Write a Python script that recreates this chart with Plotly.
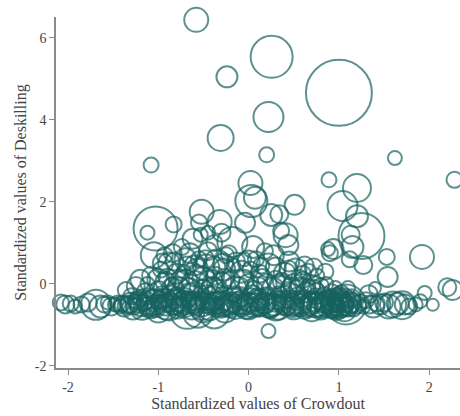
import plotly.graph_objects as go

# Isolated upper circles (x = crowdout, y = deskilling, s = marker diameter)
x_up = [-0.58, 0.255, 1.0, -0.24, 0.22, -0.31, 0.2, -1.08, 1.62, 2.28, 0.89, 1.2, 0.02, 0.07, 0.03,
        0.51, 0.25, -0.04, -0.52, -0.32, -0.55, -0.45, 1.04, 1.2, 1.25, 1.13, -1.03, -1.12, 1.92, 1.53,
        0.41, 0.44, 1.27, 1.54, 1.4, -1.05, -0.83, -0.18, 0.34, 0.36]
y_up = [6.44, 5.54, 4.66, 5.05, 4.07, 3.56, 3.15, 2.9, 3.07, 2.54, 2.54, 2.34, 2.46, 2.1, 2.02,
        1.93, 1.68, 1.49, 1.76, 1.51, 1.5, 1.25, 1.9, 1.65, 1.17, 1.2, 1.35, 1.25, 0.66, 0.66,
        1.19, 0.95, 0.46, 0.17, -0.1, 0.7, 1.45, 1.02, 1.7, 1.3]
s_up = [24, 42, 66, 21, 30, 26, 15, 15, 14, 16, 15, 28, 24, 22, 32,
        20, 22, 20, 24, 24, 16, 14, 30, 22, 46, 18, 44, 14, 24, 16,
        24, 20, 18, 20, 12, 26, 16, 30, 18, 16]

# Dense band and lower cloud
x_band = [-2.08, -2.03, -1.97, -1.92, -1.85, -1.78, -1.69, -1.64, -1.6, -1.56, -1.52, -1.48, -1.45, -1.42,
          -1.4, -1.38, -1.36, -1.32, -1.28, -1.26, -1.3, -1.25, -1.22, -1.18, -1.2, -1.16, -1.2, -1.14,
          -1.12, -1.08, -1.1, -1.06, -1.08, -1.12, -1.02, -0.98, -1.0, -0.96, -1.0, -0.97, -0.93,
          -0.92, -0.88, -0.9, -0.86, -0.9, -0.88, -0.85, -0.82, -0.78, -0.8, -0.76, -0.8, -0.77, -0.74, -0.84,
          -0.72, -0.68, -0.7, -0.66, -0.7, -0.68, -0.65, -0.72,
          -0.62, -0.58, -0.6, -0.56, -0.6, -0.57, -0.55, -0.62,
          -0.52, -0.48, -0.5, -0.46, -0.5, -0.47, -0.45, -0.53, -0.43,
          -0.42, -0.38, -0.4, -0.36, -0.4, -0.37, -0.35, -0.38,
          -0.32, -0.28, -0.3, -0.26, -0.3, -0.27, -0.25, -0.3,
          -0.22, -0.18, -0.2, -0.16, -0.2, -0.17, -0.22,
          -0.12, -0.08, -0.1, -0.06, -0.1, -0.08, -0.05,
          -0.02, 0.02, 0.0, 0.04, 0.0, 0.02, 0.05,
          0.08, 0.12, 0.1, 0.14, 0.1, 0.12, 0.08,
          0.18, 0.22, 0.2, 0.24, 0.2, 0.22, 0.22, 0.18,
          0.28, 0.32, 0.3, 0.34, 0.3, 0.28, 0.35,
          0.38, 0.42, 0.4, 0.44, 0.4, 0.45,
          0.48, 0.52, 0.5, 0.54, 0.5, 0.52, 0.56,
          0.58, 0.62, 0.6, 0.64, 0.6, 0.62, 0.66,
          0.68, 0.72, 0.7, 0.74, 0.7, 0.76, 0.72,
          0.78, 0.82, 0.8, 0.84, 0.8, 0.86, 0.9, 0.88,
          0.88, 0.92, 0.9, 0.94, 0.92, 0.96,
          0.98, 1.02, 1.0, 1.04, 1.0, 1.06, 0.98, 1.03, 0.94,
          1.08, 1.12, 1.1, 1.14, 1.16, 1.1, 1.12, 1.15,
          1.2, 1.24, 1.27, 1.3, 1.34, 1.38, 1.42, 1.46, 1.5, 1.55, 1.6, 1.65, 1.7, 1.73,
          1.78, 1.85, 1.9, 2.04, 1.95, 2.2, 2.26, 1.33]
y_band = [-0.45, -0.5, -0.48, -0.55, -0.5, -0.45, -0.51, -0.55, -0.5, -0.45, -0.55, -0.5, -0.48, -0.55,
          -0.48, -0.55, -0.15, -0.5, -0.6, -0.42, -0.3, -0.05, -0.45, -0.58, -0.35, -0.5, 0.1, -0.2,
          -0.48, -0.62, -0.3, -0.45, 0.2, 0.0, -0.5, -0.4, -0.65, -0.25, 0.1, 0.35, 0.7,
          -0.5, -0.55, -0.35, -0.2, 0.15, 0.5, 0.0, -0.45, -0.6, -0.3, -0.5, 0.25, -0.1, 0.9, 0.75,
          -0.5, -0.68, -0.35, -0.2, 0.05, 0.45, 0.75, 0.3,
          -0.45, -0.55, -0.3, -0.7, 0.0, 0.35, 0.6, 1.1,
          -0.5, -0.4, -0.62, -0.25, 0.15, 0.4, 0.8, 1.2, -0.05,
          -0.5, -0.72, -0.35, -0.55, -0.1, 0.2, 0.55, 1.0,
          -0.45, -0.55, -0.3, -0.65, 0.05, 0.35, 0.7, 1.25,
          -0.5, -0.4, -0.6, -0.25, 0.1, 0.45, 0.75,
          -0.48, -0.58, -0.32, -0.45, -0.05, 0.3, 0.6,
          -0.5, -0.4, -0.62, -0.25, 0.0, 0.35, 0.9,
          -0.5, -0.58, -0.35, -0.45, -0.1, 0.25, 0.6,
          -0.48, -0.55, -0.3, -0.65, 0.0, 0.45, -1.15, 0.8,
          -0.5, -0.4, -0.6, -0.25, 0.1, 0.7, -0.05,
          -0.48, -0.55, -0.32, -0.15, 0.25, 0.55,
          -0.5, -0.42, -0.62, -0.28, 0.0, 0.35, 0.15,
          -0.48, -0.58, -0.35, -0.2, 0.1, 0.45, -0.05,
          -0.5, -0.42, -0.62, -0.3, 0.0, 0.2, -0.15,
          -0.5, -0.45, -0.6, -0.3, -0.05, 0.0, 0.75, 0.85,
          -0.5, -0.55, -0.4, -0.62, -0.2, -0.1,
          -0.48, -0.5, -0.42, -0.55, -0.3, -0.62, -0.6, -0.2, 0.85,
          -0.5, -0.45, -0.55, -0.35, -0.6, -0.1, 0.6, 0.9,
          -0.5, -0.45, -0.55, -0.4, -0.5, -0.55, -0.48, -0.5, -0.45, -0.55, -0.5, -0.48, -0.52, -0.5,
          -0.55, -0.5, -0.42, -0.51, -0.22, -0.08, -0.15, -0.25]
s_band = [16, 18, 16, 14, 16, 18, 30, 22, 16, 14, 18, 14, 16, 14,
          16, 20, 16, 18, 22, 14, 16, 18, 20, 24, 16, 14, 20, 18,
          22, 18, 16, 26, 18, 14, 20, 18, 24, 16, 22, 16, 16,
          22, 28, 18, 16, 18, 22, 14, 24, 20, 18, 16, 20, 22, 16, 18,
          26, 34, 20, 18, 24, 18, 20, 14,
          22, 18, 28, 30, 26, 22, 16, 20,
          24, 20, 26, 18, 22, 26, 18, 14, 16,
          20, 30, 24, 16, 22, 18, 24, 16,
          22, 20, 18, 24, 20, 22, 16, 18,
          20, 24, 18, 16, 18, 14, 16,
          22, 18, 20, 16, 18, 22, 14,
          20, 24, 20, 18, 20, 16, 22,
          22, 18, 20, 16, 22, 18, 16,
          20, 22, 18, 16, 20, 24, 14, 16,
          22, 18, 24, 16, 18, 20, 22,
          20, 18, 22, 16, 22, 20,
          22, 18, 20, 16, 20, 22, 16,
          20, 22, 18, 20, 16, 18, 14,
          22, 20, 24, 16, 18, 14, 20,
          24, 20, 22, 18, 16, 14, 16, 14,
          26, 22, 20, 18, 16, 14,
          30, 26, 22, 20, 18, 24, 16, 14, 20,
          40, 22, 20, 18, 16, 14, 16, 22,
          18, 16, 14, 16, 18, 22, 16, 20, 18, 24, 26, 22, 28, 20,
          16, 14, 14, 12, 14, 18, 20, 18]

# Extra circles filling the dense core and the lower-middle cloud
x_core = [-1.35, -1.31, -1.27, -1.23, -1.19, -1.15, -1.11, -1.07, -1.03, -0.99, -0.95, -0.91, -0.87,
          -0.83, -0.79, -0.75, -0.71, -0.67, -0.63, -0.59, -0.55, -0.51, -0.47, -0.43, -0.39, -0.35,
          -0.31, -0.27, -0.23, -0.19, -0.15, -0.11, -0.07, -0.03, 0.01, 0.05, 0.09, 0.13, 0.17, 0.21,
          0.25, 0.29, 0.33, 0.37, 0.41, 0.45, 0.49, 0.53, 0.57, 0.61, 0.65, 0.69, 0.73, 0.77, 0.81,
          0.85, 0.89, 0.93, 0.97, 1.01, 1.05, 1.09, 1.13,
          -1.0, -0.92, -0.84, -0.76, -0.66, -0.58, -0.5, -0.42, -0.34, -0.26, -0.15, -0.05, 0.06,
          0.15, 0.27, 0.37, 0.47, 0.57, 0.66, 0.75,
          -0.95, -0.82, -0.7, -0.6, -0.48, -0.38, -0.28, -0.14, 0.0, 0.14, 0.3, 0.44, 0.6, 0.72, 0.85,
          0.95, 0.99, 1.03, 1.07, 0.97, 1.01, 1.05, 0.93, 1.09, 1.0,
          -1.05, -0.97, -0.89, -0.81, -0.73, -0.65, -0.57, -0.49, -0.41, -0.33]
y_core = [-0.52, -0.46, -0.55, -0.4, -0.52, -0.44, -0.56, -0.38, -0.54, -0.47, -0.36, -0.58, -0.44,
          -0.52, -0.4, -0.56, -0.46, -0.38, -0.6, -0.48, -0.4, -0.56, -0.46, -0.62, -0.42, -0.5,
          -0.58, -0.42, -0.52, -0.46, -0.56, -0.4, -0.5, -0.58, -0.44, -0.52, -0.4, -0.56, -0.46, -0.38,
          -0.54, -0.46, -0.58, -0.42, -0.5, -0.38, -0.56, -0.46, -0.52, -0.4, -0.56, -0.46, -0.52, -0.4,
          -0.56, -0.46, -0.42, -0.5, -0.56, -0.46, -0.4, -0.5, -0.46,
          -0.15, 0.05, -0.12, 0.1, -0.1, 0.2, -0.12, 0.05, -0.15, 0.15, -0.08, 0.1, -0.15,
          0.12, -0.12, 0.05, -0.1, -0.12, 0.3, -0.2,
          0.5, 0.55, 0.6, 0.45, 0.6, 0.4, 0.5, 0.55, 0.55, 0.45, 0.4, 0.35, 0.25, 0.4, 0.3,
          -0.45, -0.52, -0.44, -0.52, -0.58, -0.38, -0.6, -0.5, -0.42, -0.48,
          -0.5, -0.44, -0.52, -0.46, -0.54, -0.42, -0.5, -0.45, -0.53, -0.47]
s_core = [18, 20, 16, 18, 22, 16, 20, 18, 22, 16, 20, 24, 18,
          20, 22, 18, 24, 16, 22, 20, 18, 26, 20, 22, 18, 24,
          20, 18, 22, 20, 24, 18, 20, 22, 18, 24, 20, 18, 22, 20,
          22, 18, 24, 20, 22, 18, 20, 24, 22, 18, 20, 22, 24, 18,
          22, 20, 24, 22, 26, 20, 24, 22, 20,
          18, 20, 22, 18, 20, 22, 18, 24, 20, 18, 22, 20, 18,
          20, 22, 18, 20, 22, 16, 18,
          20, 18, 22, 20, 18, 22, 20, 18, 22, 16, 20, 18, 16, 18, 16,
          12, 14, 12, 14, 16, 12, 14, 16, 12, 10,
          14, 12, 14, 12, 14, 12, 14, 12, 14, 12]

x_all = x_up + x_band + x_core
y_all = y_up + y_band + y_core
s_all = s_up + s_band + s_core

TEAL = "#17625f"
SERIF = "Liberation Serif, Times New Roman, serif"

fig = go.Figure(go.Scatter(
    x=x_all, y=y_all, mode="markers",
    marker=dict(symbol="circle-open", size=s_all, color=TEAL,
                line=dict(width=2, color=TEAL)),
    hoverinfo="skip", cliponaxis=False,
))

x_ticks = [-2, -1, 0, 1, 2]
y_ticks = [-2, 0, 2, 4, 6]

fig.update_layout(
    width=460, height=416,
    margin=dict(l=56, r=0, t=17, b=48),
    paper_bgcolor="white", plot_bgcolor="white",
    showlegend=False,
    font=dict(family=SERIF, color="#444444", size=14),
    xaxis=dict(range=[-2.133, 2.341], tickvals=x_ticks, ticktext=[str(v) for v in x_ticks],
               showgrid=False, zeroline=False, showline=True, linecolor="#8a8a8a", linewidth=1.5,
               ticks="outside", ticklen=5, tickcolor="#8a8a8a", tickwidth=1.2,
               title=dict(text="Standardized values of Crowdout", font=dict(size=16, family=SERIF, color="#444444"), standoff=2)),
    yaxis=dict(range=[-2.05, 6.51], tickvals=y_ticks, ticktext=[str(v) for v in y_ticks],
               showgrid=False, zeroline=False, showline=True, linecolor="#8a8a8a", linewidth=1.5,
               ticks="outside", ticklen=5, tickcolor="#8a8a8a", tickwidth=1.2,
               title=dict(text="Standardized values of Deskilling", font=dict(size=16, family=SERIF, color="#444444"), standoff=4)),
)

fig.write_html("out.html")
